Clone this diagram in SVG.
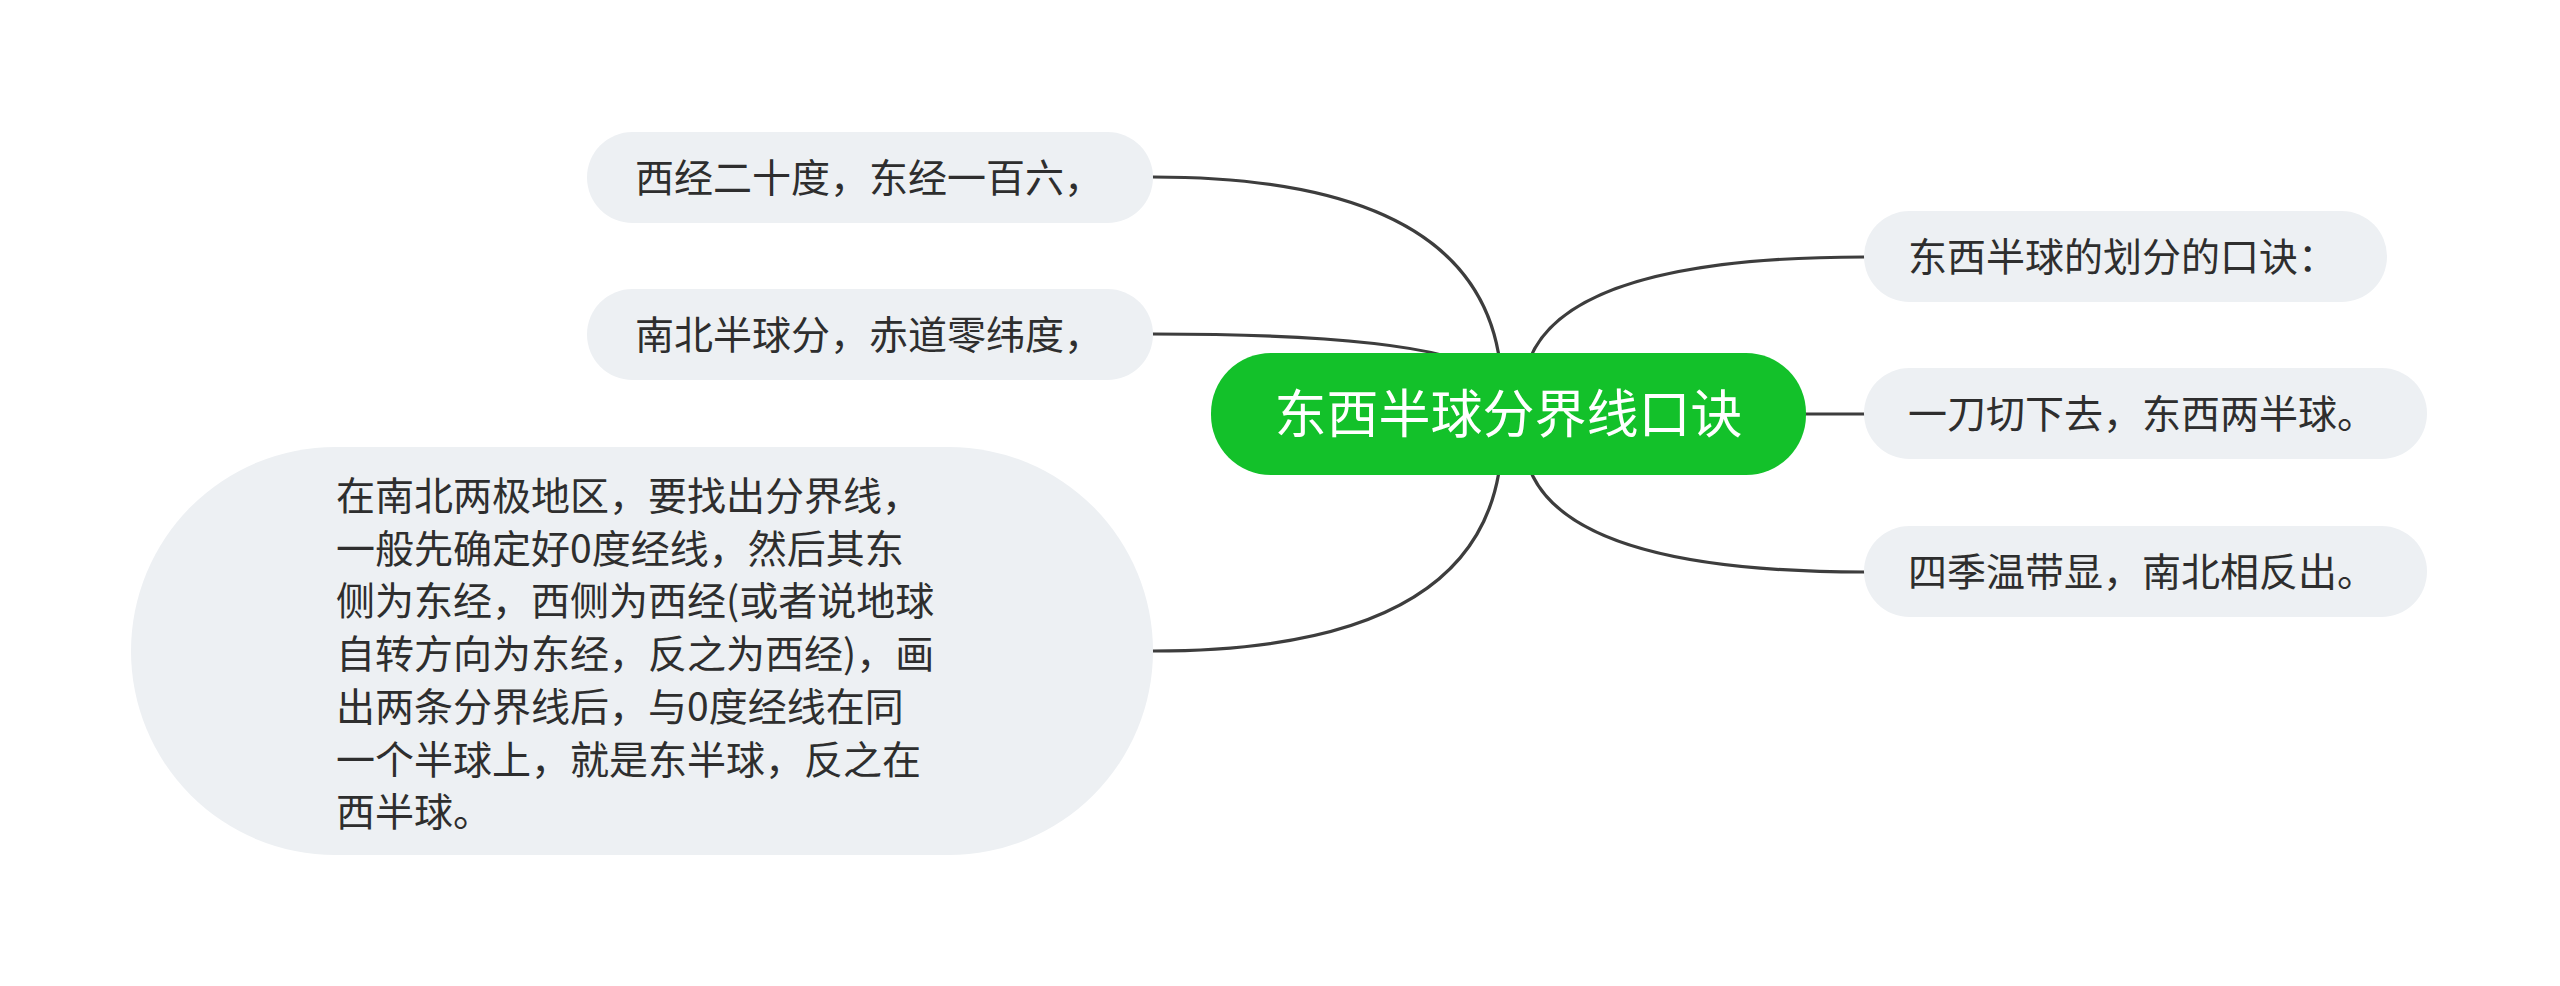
<svg xmlns="http://www.w3.org/2000/svg" width="2560" height="986" viewBox="0 0 2560 986">
<style>
.edge{fill:none;stroke:#3d3d3d;stroke-width:3.2;stroke-linecap:round}
.sub{fill:#EDF0F3}
.t{font-family:"Noto Sans CJK SC","Noto Sans",sans-serif;font-size:39px;fill:#2e2e2e}
.root{fill:#13C12A}
.rt{font-family:"Noto Sans CJK SC","Noto Sans",sans-serif;font-size:52px;fill:#ffffff}
</style>
<rect width="2560" height="986" fill="#ffffff"/>
<g id="connectors">
<path class="edge" d="M1502 395 Q1502 177 1153 177"/>
<path class="edge" d="M1502 395 Q1502 334 1153 334"/>
<path class="edge" d="M1502 433 Q1502 651 1153 651"/>
<path class="edge" d="M1523 395 Q1523 257 1864 257"/>
<path class="edge" d="M1523 414 L1864 414"/>
<path class="edge" d="M1523 433 Q1523 572 1864 572"/>
</g>
<g id="root">
<rect class="root" x="1211" y="353" width="595" height="122" rx="60"/>
<text class="rt" x="1508.5" y="433" text-anchor="middle">东西半球分界线口诀</text>
</g>
<g id="node-l1">
<rect class="sub" x="587" y="132" width="566" height="91" rx="45.5"/>
<text class="t" x="635" y="192">西经二十度，东经一百六，</text>
</g>
<g id="node-l2">
<rect class="sub" x="587" y="289" width="566" height="91" rx="45.5"/>
<text class="t" x="635" y="349">南北半球分，赤道零纬度，</text>
</g>
<g id="node-l3">
<rect class="sub" x="131" y="447" width="1022" height="408" rx="204"/>
<text class="t">
<tspan x="336" y="510">在南北两极地区，要找出分界线，</tspan>
<tspan x="336" y="562.7">一般先确定好0度经线，然后其东</tspan>
<tspan x="336" y="615.4">侧为东经，西侧为西经(或者说地球</tspan>
<tspan x="336" y="668.1">自转方向为东经，反之为西经)，画</tspan>
<tspan x="336" y="720.8">出两条分界线后，与0度经线在同</tspan>
<tspan x="336" y="773.5">一个半球上，就是东半球，反之在</tspan>
<tspan x="336" y="826.2">西半球。</tspan>
</text>
</g>
<g id="node-r1">
<rect class="sub" x="1864" y="211" width="523" height="91" rx="45.5"/>
<text class="t" x="1908" y="271">东西半球的划分的口诀：</text>
</g>
<g id="node-r2">
<rect class="sub" x="1864" y="368" width="563" height="91" rx="45.5"/>
<text class="t" x="1908" y="428">一刀切下去，东西两半球。</text>
</g>
<g id="node-r3">
<rect class="sub" x="1864" y="526" width="563" height="91" rx="45.5"/>
<text class="t" x="1908" y="586">四季温带显，南北相反出。</text>
</g>
</svg>
